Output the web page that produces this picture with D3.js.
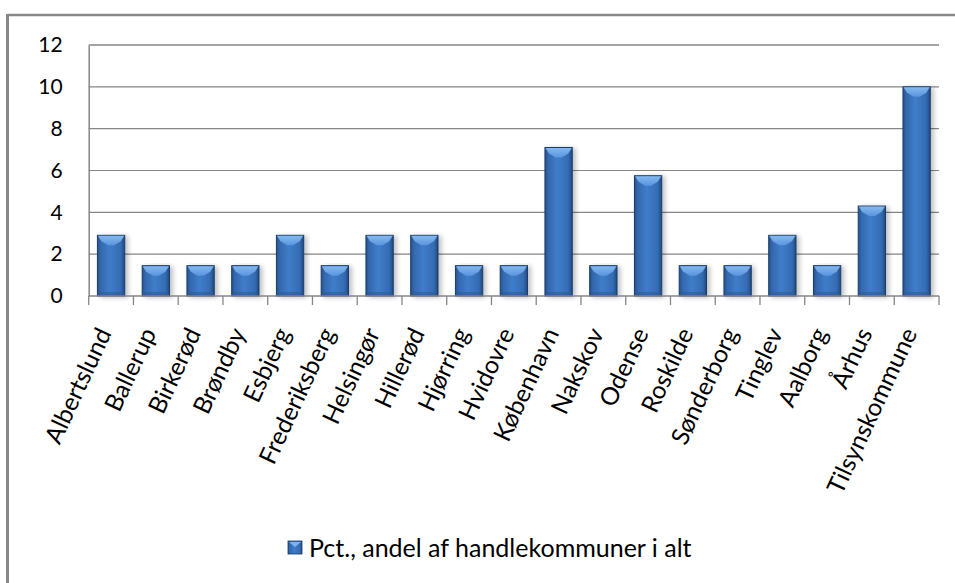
<!DOCTYPE html>
<html><head><meta charset="utf-8">
<script src="https://cdn.jsdelivr.net/npm/d3@7"></script>
<style>
html,body{margin:0;padding:0;background:#fff;}
svg{display:block;}
text{font-family:"Lato","Open Sans",sans-serif;fill:#000;}
</style></head>
<body>
<svg id="chart" width="955" height="583"></svg>
<script>
const categories = ["Albertslund","Ballerup","Birkerød","Brøndby","Esbjerg","Frederiksberg","Helsingør","Hillerød","Hjørring","Hvidovre","København","Nakskov","Odense","Roskilde","Sønderborg","Tinglev","Aalborg","Århus","Tilsynskommune"];
const values = [2.9,1.45,1.45,1.45,2.9,1.45,2.9,2.9,1.45,1.45,7.1,1.45,5.75,1.45,1.45,2.9,1.45,4.3,10.0];
const yTicks = [0,2,4,6,8,10,12];
const seriesName = "Pct., andel af handlekommuner i alt";

const svg = d3.select("#chart");
const W = 955, H = 583;
const plot = {left: 88.7, right: 939, top: 45, bottom: 296};

svg.append("line").attr("x1",7.5).attr("x2",W).attr("y1",15).attr("y2",15)
  .attr("stroke","#888").attr("stroke-width",2.5);
svg.append("line").attr("x1",7.5).attr("x2",7.5).attr("y1",14).attr("y2",H)
  .attr("stroke","#888").attr("stroke-width",3);

const x = d3.scaleBand().domain(categories).range([plot.left, plot.right])
  .paddingInner(0.39).paddingOuter(0.195);
const y = d3.scaleLinear().domain([0,12]).range([plot.bottom, plot.top]);

const defs = svg.append("defs");
const g1 = defs.append("linearGradient").attr("id","barGrad").attr("x1","0").attr("x2","1").attr("y1","0").attr("y2","0");
g1.append("stop").attr("offset","0").attr("stop-color","#24528f");
g1.append("stop").attr("offset","0.12").attr("stop-color","#3468ad");
g1.append("stop").attr("offset","0.45").attr("stop-color","#3f7dc9");
g1.append("stop").attr("offset","0.85").attr("stop-color","#356cb2");
g1.append("stop").attr("offset","1").attr("stop-color","#21497f");
const g2 = defs.append("linearGradient").attr("id","bevGrad").attr("x1","0").attr("x2","0").attr("y1","0").attr("y2","1");
g2.append("stop").attr("offset","0").attr("stop-color","#8cc0f5");
g2.append("stop").attr("offset","1").attr("stop-color","#5d98e0");
const f = defs.append("filter").attr("id","shadow").attr("x","-30%").attr("y","-10%").attr("width","170%").attr("height","130%");
f.append("feGaussianBlur").attr("in","SourceAlpha").attr("stdDeviation",2.5).attr("result","b");
f.append("feOffset").attr("in","b").attr("dx",3).attr("dy",1).attr("result","o");
f.append("feComponentTransfer").attr("in","o").attr("result","s").append("feFuncA").attr("type","linear").attr("slope",0.25);
const fm = f.append("feMerge");
fm.append("feMergeNode").attr("in","s");
fm.append("feMergeNode").attr("in","SourceGraphic");

const grid = svg.append("g");
grid.selectAll("line").data(yTicks.filter(d=>d>0)).join("line")
  .attr("x1",plot.left).attr("x2",plot.right)
  .attr("y1",d=>y(d)).attr("y2",d=>y(d))
  .attr("stroke","#868686").attr("stroke-width",d=>d===12?1.6:1.1);

const yAxis = svg.append("g").attr("transform",`translate(${plot.left},0)`)
  .call(d3.axisLeft(y).tickValues(yTicks).tickSize(0).tickPadding(26));
yAxis.select(".domain").attr("stroke","#868686").attr("stroke-width",1.5);
yAxis.selectAll("text").attr("font-size","21px").attr("fill","#000").style("font-family","Lato");

const bars = svg.append("g");
const bw = x.bandwidth();
categories.forEach((c,i)=>{
  const v = values[i];
  const x0 = x(c), y0 = y(v), h = y(0)-y(v);
  const g = bars.append("g").attr("filter","url(#shadow)");
  g.append("rect").attr("x",x0).attr("y",y0).attr("width",bw).attr("height",h)
    .attr("fill","url(#barGrad)").attr("stroke","#1a3c6a").attr("stroke-width",1);
  const bev = Math.min(6, h/2);
  g.append("path").attr("d",`M${x0+0.5},${y0+0.5}L${x0+bw-0.5},${y0+0.5}L${x0+bw-4},${y0+bev}L${x0+bw/2+3},${y0+bev+4}L${x0+bw/2-3},${y0+bev+4}L${x0+4},${y0+bev}Z`)
    .attr("fill","url(#bevGrad)").attr("opacity",0.9);
  g.append("rect").attr("x",x0+1).attr("y",y0+h-4).attr("width",bw-2).attr("height",3)
    .attr("fill","#2c5c9c").attr("opacity",0.6);
});

const xAxis = svg.append("g").attr("transform",`translate(0,${plot.bottom})`);
xAxis.append("line").attr("x1",plot.left).attr("x2",plot.right).attr("y1",0).attr("y2",0)
  .attr("stroke","#868686").attr("stroke-width",1.6);
const tickPos = categories.map(c=>x(c)-x.step()*x.paddingInner()/2).concat([plot.right]);
xAxis.selectAll("line.tick").data(tickPos).join("line").attr("class","tick")
  .attr("x1",d=>d).attr("x2",d=>d).attr("y1",0).attr("y2",9)
  .attr("stroke","#868686").attr("stroke-width",1.3);
xAxis.selectAll("text").data(categories).join("text")
  .attr("transform",d=>`translate(${x(d)+bw/2+1},${37}) rotate(-65)`)
  .attr("text-anchor","end")
  .attr("font-size","24.5px").text(d=>d);

const leg = svg.append("g").attr("transform","translate(288,541)");
leg.append("rect").attr("x",0).attr("y",0).attr("width",14).attr("height",13)
  .attr("fill","url(#barGrad)").attr("stroke","#1a3c6a").attr("stroke-width",0.8);
leg.append("path").attr("d","M1,1L13,1L7,6Z").attr("fill","#7fb2ee");
leg.append("text").attr("x",21).attr("y",7).attr("dy","0.35em").attr("font-size","25px").text(seriesName);
</script>
</body></html>
